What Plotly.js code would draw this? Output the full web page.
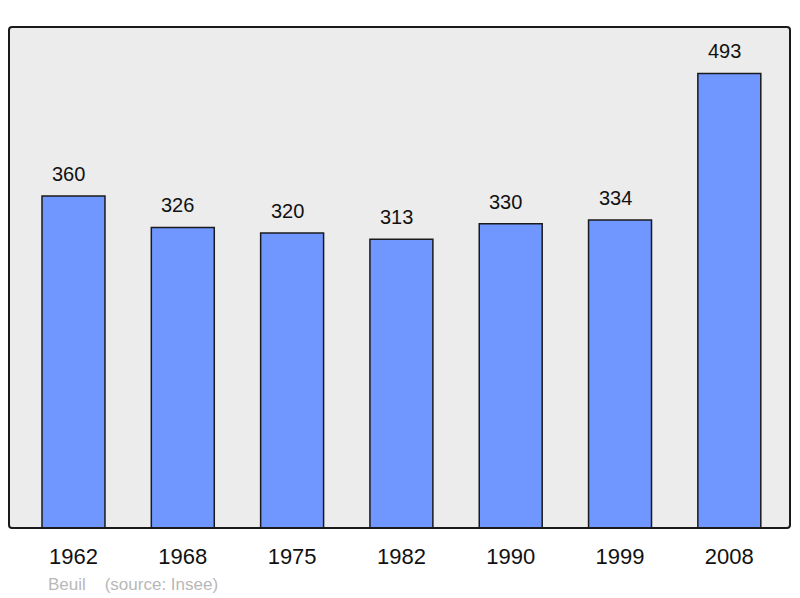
<!DOCTYPE html>
<html>
<head>
<meta charset="utf-8">
<script src="https://cdn.plot.ly/plotly-3.0.1.min.js"></script>
<style>html,body{margin:0;padding:0;background:#fff;}#chart{width:800px;height:598px;}</style>
</head>
<body>
<div id="chart"></div>
<script>
const years = ["1962", "1968", "1975", "1982", "1990", "1999", "2008"];
const population = [360, 326, 320, 313, 330, 334, 493];
const footer = "Beuil&nbsp;&nbsp;&nbsp;&nbsp;(source: Insee)";

const xs = years.map((_, i) => i);

const trace = {
  type: "bar",
  x: xs,
  y: population,
  width: 0.576,
  marker: { color: "#7097ff", line: { color: "#1a1a1a", width: 1.5 } },
  hoverinfo: "skip"
};

const annotations = population.map((v, i) => ({
  x: i, y: v, xref: "x", yref: "y",
  text: String(v), showarrow: false,
  yanchor: "bottom", yshift: 9, xshift: -5,
  font: { family: "Liberation Sans, Arial, sans-serif", size: 20, color: "#111" }
}));
annotations.push({
  xref: "paper", yref: "paper", x: 37/781, y: -56/501,
  xanchor: "left", yanchor: "middle", showarrow: false,
  text: footer,
  font: { family: "Liberation Sans, Arial, sans-serif", size: 17, color: "#b8b8b8" }
});

const layout = {
  width: 800, height: 598,
  margin: { l: 9, r: 10, t: 27, b: 70 },
  paper_bgcolor: "#ffffff",
  plot_bgcolor: "#ececec",
  showlegend: false,
  xaxis: {
    range: [-0.59, 6.555],
    tickvals: xs, ticktext: years,
    showgrid: false, zeroline: false, showline: false,
    ticks: "outside", ticklen: 9, tickcolor: "rgba(0,0,0,0)",
    tickfont: { family: "Liberation Sans, Arial, sans-serif", size: 22, color: "#111" },
    fixedrange: true
  },
  yaxis: {
    range: [0, 543.3],
    showgrid: false, zeroline: false, showline: false, showticklabels: false,
    fixedrange: true
  },
  shapes: [{
    type: "path", xref: "paper", yref: "paper",
    path: "M 0.004,0 L 0.996,0 Q 1,0 1,0.006 L 1,0.994 Q 1,1 0.996,1 L 0.004,1 Q 0,1 0,0.994 L 0,0.006 Q 0,0 0.004,0 Z",
    line: { color: "#1a1a1a", width: 2 },
    layer: "above"
  }],
  annotations: annotations
};

Plotly.newPlot("chart", [trace], layout, { displayModeBar: false, staticPlot: true });
</script>
</body>
</html>
